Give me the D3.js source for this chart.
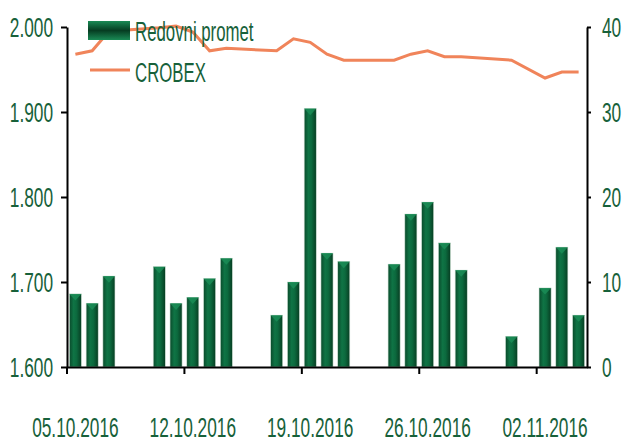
<!DOCTYPE html>
<meta charset="utf-8">
<style>
  body { margin: 0; background: #fff; }
  text { font-family: "Liberation Sans", Arial, sans-serif; fill: #17613a; }
</style>
<svg width="623" height="443"></svg>
<script src="https://d3js.org/d3.v7.min.js"></script>
<script>
// calendar days shown on the axis (weekends stay empty)
var days = ["05.10","06.10","07.10","08.10","09.10","10.10","11.10","12.10","13.10","14.10",
  "15.10","16.10","17.10","18.10","19.10","20.10","21.10","22.10","23.10","24.10",
  "25.10","26.10","27.10","28.10","29.10","30.10","31.10","01.11","02.11","03.11","04.11"];

// Redovni promet (right axis)
var promet = [8.6, 7.5, 10.7, null, null, 11.8, 7.5, 8.2, 10.4, 12.8,
  null, null, 6.1, 10.0, 30.4, 13.4, 12.4, null, null, 12.1,
  18.0, 19.4, 14.6, 11.4, null, null, 3.6, null, 9.3, 14.1, 6.1];

// CROBEX (left axis)
var crobex = [1.968, 1.972, 1.995, null, null, 1.999, 2.001, 1.994, 1.972, 1.975,
  null, null, 1.972, 1.986, 1.982, 1.968, 1.961, null, null, 1.961,
  1.968, 1.972, 1.965, 1.965, null, null, 1.961, null, 1.940, 1.947, 1.947];

var leftTicks = [1.6, 1.7, 1.8, 1.9, 2.0];
var rightTicks = [0, 10, 20, 30, 40];
var dateTicks = ["05.10", "12.10", "19.10", "26.10", "02.11"];

var svg = d3.select("svg");
var x0 = 67, x1 = 587, yTop = 27, yBot = 367;

var x = d3.scaleBand().domain(days).range([x0, x1]).padding(0);
var yL = d3.scaleLinear().domain([1.6, 2.0]).range([yBot, yTop]);
var yR = d3.scaleLinear().domain([0, 40]).range([yBot, yTop]);
var bw = x.bandwidth(), barW = bw * 0.72;

var defs = svg.append("defs");
var gr = defs.append("linearGradient").attr("id", "barg").attr("x1", 0).attr("x2", 1).attr("y1", 0).attr("y2", 0);
gr.append("stop").attr("offset", "0").attr("stop-color", "#0a4a2b");
gr.append("stop").attr("offset", "0.35").attr("stop-color", "#0f7445");
gr.append("stop").attr("offset", "0.6").attr("stop-color", "#0c6a3e");
gr.append("stop").attr("offset", "1").attr("stop-color", "#073d22");
var lg = defs.append("linearGradient").attr("id", "legg").attr("x1", 0).attr("x2", 0).attr("y1", 0).attr("y2", 1);
lg.append("stop").attr("offset", "0").attr("stop-color", "#1a8a55");
lg.append("stop").attr("offset", "0.5").attr("stop-color", "#063d22");
lg.append("stop").attr("offset", "1").attr("stop-color", "#1a8a55");

// bars
var bars = svg.append("g").selectAll("g")
  .data(days.map(function(d, i) { return {day: d, v: promet[i]}; }).filter(function(d) { return d.v != null; }))
  .enter().append("g");

bars.append("rect")
  .attr("x", function(d) { return x(d.day) + (bw - barW) / 2; })
  .attr("y", function(d) { return yR(d.v); })
  .attr("width", barW)
  .attr("height", function(d) { return yBot - yR(d.v); })
  .attr("fill", "url(#barg)")
  .attr("stroke", "#cfe3d6").attr("stroke-width", 0.6);

bars.append("path")
  .attr("d", function(d) {
    var l = x(d.day) + (bw - barW) / 2, t = yR(d.v);
    return "M" + l + "," + t + "L" + (l + barW) + "," + t + "L" + (l + barW / 2) + "," + (t + barW * 0.55) + "Z";
  })
  .attr("fill", "#1b8e57").attr("opacity", 0.8);

// CROBEX line, connecting trading days
var pts = days.map(function(d, i) { return [d, crobex[i]]; }).filter(function(p) { return p[1] != null; });
svg.append("path")
  .datum(pts)
  .attr("fill", "none")
  .attr("stroke", "#f0845a")
  .attr("stroke-width", 3)
  .attr("d", d3.line().x(function(p) { return x(p[0]) + bw / 2; }).y(function(p) { return yL(p[1]); }));

// axes
var sx = 0.64;
var axL = svg.append("g").attr("transform", "translate(" + x0 + ",0)")
  .call(d3.axisLeft(yL).tickValues(leftTicks).tickSize(6).tickSizeOuter(0).tickFormat(d3.format(".3f")));
axL.selectAll("text").attr("x", -14 / sx).attr("transform", "scale(" + sx + ",1)")
  .attr("dy", "0.36em").style("font-size", "27px");

var axR = svg.append("g").attr("transform", "translate(" + x1 + ",0)")
  .call(d3.axisRight(yR).tickValues(rightTicks).tickSize(4).tickSizeOuter(0));
axR.selectAll("text").attr("x", 15 / sx).attr("transform", "scale(" + sx + ",1)")
  .attr("dy", "0.36em").style("font-size", "27px");

var axB = svg.append("g").attr("transform", "translate(0," + yBot + ")")
  .call(d3.axisBottom(x).tickValues(dateTicks).tickSize(7).tickSizeOuter(0)
    .tickFormat(function(d) { return d + ".2016"; }));
axB.selectAll(".tick line").attr("x1", -bw / 2).attr("x2", -bw / 2);
axB.selectAll("text").attr("y", 0).attr("dy", 0)
  .attr("transform", "translate(0,70) scale(" + sx + ",1)").style("font-size", "27px");

svg.selectAll(".domain, .tick line").attr("stroke", "#000").attr("stroke-width", 2);
svg.selectAll(".tick text").style("font-family", "'Liberation Sans', Arial, sans-serif").attr("fill", "#17613a");

// legend
var leg = svg.append("g");
leg.append("rect").attr("x", 88).attr("y", 21).attr("width", 42).attr("height", 19).attr("fill", "url(#legg)");
leg.append("line").attr("x1", 90).attr("x2", 130).attr("y1", 70).attr("y2", 70)
  .attr("stroke", "#f0845a").attr("stroke-width", 3);
var ls = 0.6;
leg.append("text").attr("transform", "translate(135,41) scale(" + ls + ",1)")
  .style("font-size", "28px").text("Redovni promet");
leg.append("text").attr("transform", "translate(135,82) scale(" + ls + ",1)")
  .style("font-size", "28px").text("CROBEX");
</script>
